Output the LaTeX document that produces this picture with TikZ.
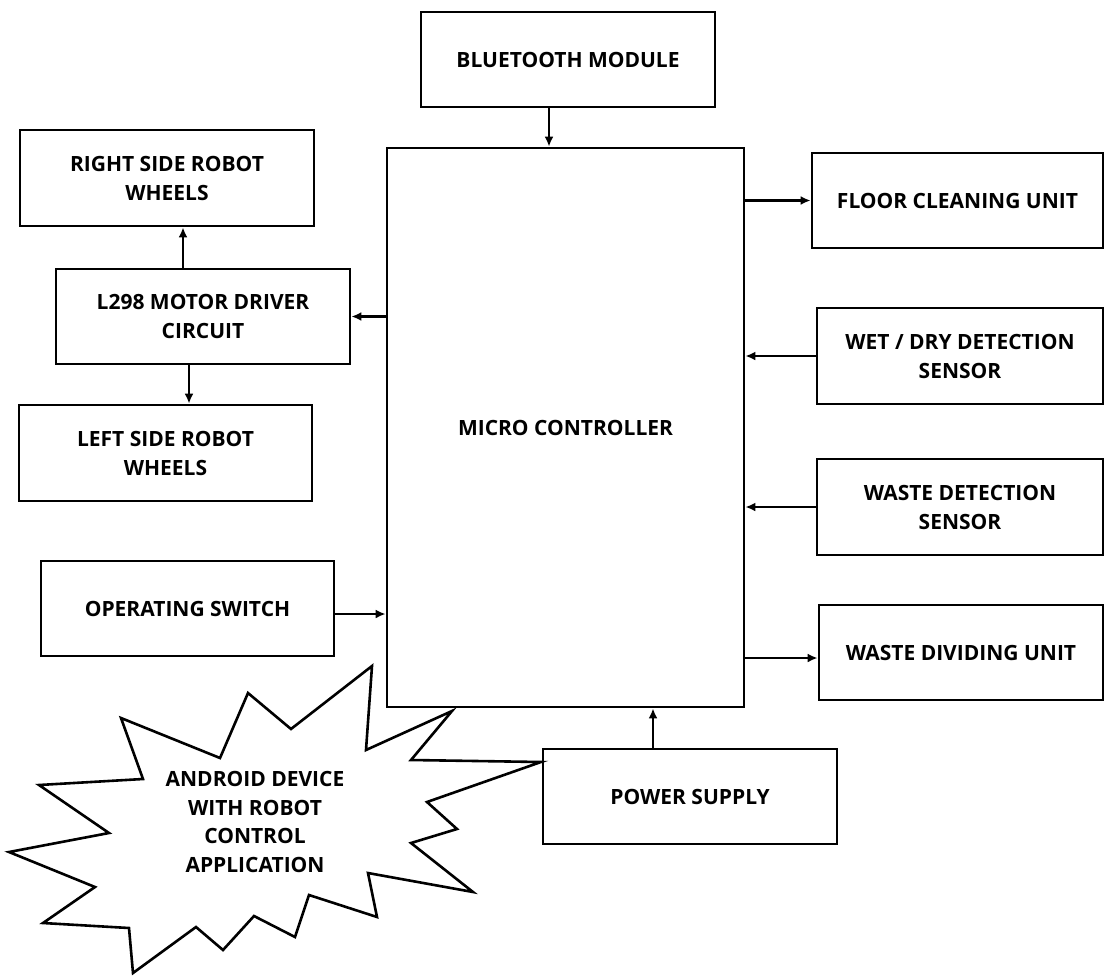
\documentclass[tikz,border=0pt]{standalone}
\usepackage{fontspec}
\setmainfont{Open Sans}
\usetikzlibrary{arrows.meta}

\begin{document}
\begin{tikzpicture}[x=1pt, y=-1pt,
	block/.style={rectangle, draw, line width=2.8pt, minimum width=294pt, minimum height=95pt, inner sep=0pt, text centered, align=center, font=\bfseries\fontsize{21}{29}\selectfont},
	link/.style={-{Latex[length=10pt, width=9pt]}, line width=2.3pt}]
		\useasboundingbox (0,0) rectangle (1105,975);
		
		%Android device burst
		\draw[line width=2.6pt, miter limit=20] (121,718) -- (220,758) -- (248,693) -- (291,729) -- (372,666) -- (366,750) -- (452,711) -- (411,760) -- (541,762) -- (427,802) -- (457,829) -- (411,843) -- (473,892) -- (368,873) -- (377,917) -- (309,895) -- (295,937) -- (254,916) -- (223,950) -- (196,927) -- (133,973) -- (129,928) -- (43,923) -- (95,887) -- (9,852) -- (109,833) -- (39,785) -- (143,779) -- cycle;
		\node (Android Device) at (255,822) [align=center, font=\bfseries\fontsize{21}{28.5}\selectfont]{ANDROID DEVICE\\WITH ROBOT\\CONTROL\\APPLICATION};
		
		%Central nodes
		\node (Bluetooth Module) at (568,59.5) [block]{BLUETOOTH MODULE};
		\node (Micro Controller) at (565.5,427.5) [block, minimum width=357pt, minimum height=559pt]{MICRO CONTROLLER};
		\node (Power Supply) at (690,796.5) [block]{POWER SUPPLY};
		
		%Left nodes
		\node (Right Wheels) at (167,178) [block, minimum height=96pt]{RIGHT SIDE ROBOT\\WHEELS};
		\node (Motor Driver) at (203,316.5) [block]{L298 MOTOR DRIVER\\CIRCUIT};
		\node (Left Wheels) at (165.5,453) [block, minimum width=293pt, minimum height=96pt]{LEFT SIDE ROBOT\\WHEELS};
		\node (Operating Switch) at (187.5,608.5) [block, minimum width=293pt]{OPERATING SWITCH};
		
		%Right nodes
		\node (Floor Cleaning) at (957.5,200.5) [block, minimum width=291pt]{FLOOR CLEANING UNIT};
		\node (Wet Dry) at (960,356) [block, minimum width=286pt, minimum height=96pt]{WET / DRY DETECTION\\SENSOR};
		\node (Waste Detection) at (960,507) [block, minimum width=286pt, minimum height=96pt]{WASTE DETECTION\\SENSOR};
		\node (Waste Dividing) at (961,652.5) [block, minimum width=284pt]{WASTE DIVIDING UNIT};
		
		%Links
		\draw[link] ([xshift=-19pt]Bluetooth Module.south) -- ([xshift=-19pt]Bluetooth Module.south |- Micro Controller.north);
		\draw[link] (Micro Controller.west |- Motor Driver.east) -- (Motor Driver.east);
		\draw[link] ([xshift=-20pt]Motor Driver.north) -- ([xshift=-20pt]Motor Driver.north |- Right Wheels.south);
		\draw[link] ([xshift=-14pt]Motor Driver.south) -- ([xshift=-14pt]Motor Driver.south |- Left Wheels.north);
		\draw[link] ([yshift=-5.5pt]Operating Switch.east) -- ([yshift=-5.5pt]Operating Switch.east -| Micro Controller.west);
		\draw[link] ([xshift=-37pt]Power Supply.north) -- ([xshift=-37pt]Power Supply.north |- Micro Controller.south);
		\draw[link] (Micro Controller.east |- Floor Cleaning.west) -- (Floor Cleaning.west);
		\draw[link] (Wet Dry.west) -- (Wet Dry.west -| Micro Controller.east);
		\draw[link] (Waste Detection.west) -- (Waste Detection.west -| Micro Controller.east);
		\draw[link] ([yshift=-5.5pt]Waste Dividing.west -| Micro Controller.east) -- ([yshift=-5.5pt]Waste Dividing.west);
		
\end{tikzpicture}
\end{document}
